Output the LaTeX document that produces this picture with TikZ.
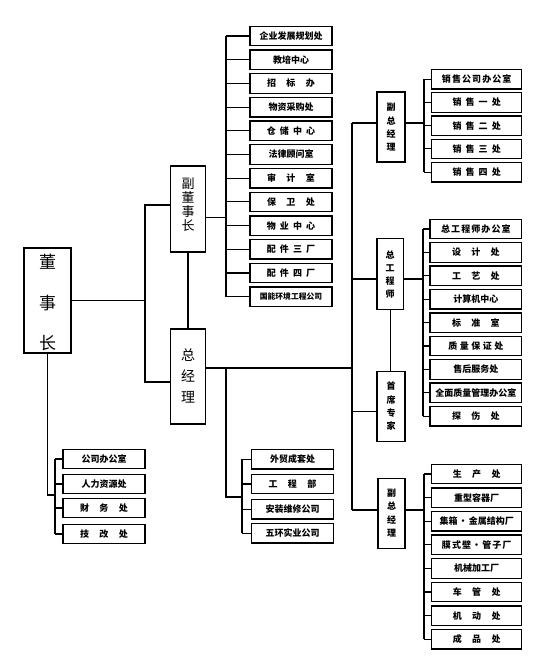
\documentclass[tikz,border=0pt]{standalone}
\usepackage{fontspec}
\newfontfamily\cjk{Noto Sans CJK SC}
\newcommand\wsA{\hspace{1.15em}}
\newcommand\wsB{\hspace{0.45em}}
\newcommand\wsC{\hspace{0.28em}}
\newcommand\wsD{\hspace{0.12em}}
\begin{document}
\begin{tikzpicture}[x=1pt,y=-1pt,
  ln/.style={line width=1.1pt},
  frame/.style={draw, line width=1.3pt, inner sep=0pt},
  bx/.style={frame, minimum height=19.5pt, font=\cjk\bfseries\fontsize{9}{11}\selectfont},
  midbox/.style={bx, minimum width=82pt},
  rgtbox/.style={bx, minimum width=90pt},
  vt/.style={inner sep=0pt, align=center},
  smallv/.style={vt, font=\cjk\bfseries\fontsize{9}{13.3}\selectfont},
]
\useasboundingbox (0,0) rectangle (536,662);

% ---- main vertical boxes
\node[frame, minimum width=47pt, minimum height=105pt] (dsz) at (47.5,300.5) {};
\node[vt, font=\cjk\fontsize{17}{40.5}\selectfont] (dszt) at (47.5,302.5) {董\\事\\长};

\node[frame, minimum width=35.5pt, minimum height=86pt] (fdsz) at (188,209) {};
\node[vt, font=\cjk\fontsize{13}{14}\selectfont] (fdszt) at (188,204.5) {副\\董\\事\\长};

\node[frame, minimum width=35.5pt, minimum height=95pt] (zjl) at (188,376.5) {};
\node[vt, font=\cjk\fontsize{14}{21}\selectfont] (zjlt) at (188,376) {总\\经\\理};

\node[frame, minimum width=28pt, minimum height=70pt] (fz1) at (391,127) {};
\node[smallv] (fz1t) at (391,127.4) {副\\总\\经\\理};

\node[frame, minimum width=26.5pt, minimum height=71pt] (zgcs) at (390.2,273.8) {};
\node[smallv, font=\cjk\bfseries\fontsize{9}{13}\selectfont] (zgcst) at (390.2,274.5) {总\\工\\程\\师};

\node[frame, minimum width=28pt, minimum height=70pt] (sxzj) at (391,406.7) {};
\node[smallv] (sxzjt) at (391,406.3) {首\\席\\专\\家};

\node[frame, minimum width=27pt, minimum height=70pt] (fz2) at (391.5,513.3) {};
\node[smallv] (fz2t) at (391.5,513) {副\\总\\经\\理};

% ---- middle top list
\node[midbox] (m1) at (291,36.0) {企业发展规划处};
\node[midbox] (m2) at (291,59.7) {教培中心};
\node[midbox] (m3) at (291,83.4) {招\wsA 标\wsA 办};
\node[midbox] (m4) at (291,107.1) {物资采购处};
\node[midbox] (m5) at (291,130.8) {仓\wsB 储\wsB 中\wsB 心};
\node[midbox] (m6) at (291,154.5) {法律顾问室};
\node[midbox] (m7) at (291,178.2) {审\wsA 计\wsA 室};
\node[midbox] (m8) at (291,201.9) {保\wsA 卫\wsA 处};
\node[midbox] (m9) at (291,225.6) {物\wsB 业\wsB 中\wsB 心};
\node[midbox] (m10) at (291,249.3) {配\wsB 件\wsB 三\wsB 厂};
\node[midbox] (m11) at (291,273.0) {配\wsB 件\wsB 四\wsB 厂};
\node[midbox, font=\cjk\bfseries\fontsize{7.8}{10}\selectfont] (m12) at (291,296.7) {国能环境工程公司};

% ---- right list 1
\node[rgtbox] (a1) at (476.7,79.3) {销\wsD 售\wsD 公\wsD 司\wsD 办\wsD 公\wsD 室};
\node[rgtbox] (a2) at (476.7,102.5) {销\wsB 售\wsB 一\wsB 处};
\node[rgtbox] (a3) at (476.7,125.7) {销\wsB 售\wsB 二\wsB 处};
\node[rgtbox] (a4) at (476.7,148.9) {销\wsB 售\wsB 三\wsB 处};
\node[rgtbox] (a5) at (476.7,172.1) {销\wsB 售\wsB 四\wsB 处};

% ---- right list 2
\node[rgtbox, minimum width=91.7pt] (b1) at (475.85,229.0) {总\wsD 工\wsD 程\wsD 师\wsD 办\wsD 公\wsD 室};
\node[rgtbox, minimum width=91.7pt] (b2) at (475.85,252.4) {设\wsA 计\wsA 处};
\node[rgtbox, minimum width=91.7pt] (b3) at (475.85,275.8) {工\wsA 艺\wsA 处};
\node[rgtbox, minimum width=91.7pt] (b4) at (475.85,299.2) {计算机中心};
\node[rgtbox, minimum width=91.7pt] (b5) at (475.85,322.6) {标\wsA 准\wsA 室};
\node[rgtbox, minimum width=91.7pt] (b6) at (475.85,346.0) {质\wsC 量\wsC 保\wsC 证\wsC 处};
\node[rgtbox, minimum width=91.7pt] (b7) at (475.85,369.4) {售后服务处};
\node[rgtbox, minimum width=91.7pt] (b8) at (475.85,392.8) {全面质量管理办公室};
\node[rgtbox, minimum width=91.7pt] (b9) at (475.85,416.2) {探\wsA 伤\wsA 处};

% ---- right list 3
\node[rgtbox] (c1) at (476.7,474.0) {生\wsA 产\wsA 处};
\node[rgtbox] (c2) at (476.7,497.6) {重型容器厂};
\node[rgtbox] (c3) at (476.7,521.2) {集箱\wsD ·\wsD 金属结构厂};
\node[rgtbox] (c4) at (476.7,544.8) {膜\wsD 式\wsD 壁\wsD ·\wsD 管\wsD 子\wsD 厂};
\node[rgtbox] (c5) at (476.7,568.4) {机械加工厂};
\node[rgtbox] (c6) at (476.7,592.0) {车\wsA 管\wsA 处};
\node[rgtbox] (c7) at (476.7,615.6) {机\wsA 动\wsA 处};
\node[rgtbox] (c8) at (476.7,639.2) {成\wsA 品\wsA 处};

% ---- bottom middle list
\node[midbox, minimum width=81.6pt] (d1) at (292.5,459.3) {外贸成套处};
\node[midbox, minimum width=81.6pt] (d2) at (292.5,484.0) {工\wsA 程\wsA 部};
\node[midbox, minimum width=81.6pt] (d3) at (292.5,509.3) {安装维修公司};
\node[midbox, minimum width=81.6pt] (d4) at (292.5,533.3) {五环实业公司};

% ---- bottom left list
\node[midbox] (e1) at (104,459) {公司办公室};
\node[midbox] (e2) at (104,484) {人力资源处};
\node[midbox] (e3) at (104,508) {财\wsA 务\wsA 处};
\node[midbox] (e4) at (104,534) {技\wsA 改\wsA 处};

% ---- junction coordinates
\coordinate (jA) at (145,300.5);
\coordinate (tF) at (145,205);
\coordinate (tZ) at (145,382);
\coordinate (tM) at (226,217.5);
\coordinate (tS) at (352,368);
\coordinate (s1) at (352,123);
\coordinate (s2) at (352,279);
\coordinate (s3) at (352,411.5);
\coordinate (s4) at (352,510);
\coordinate (r1) at (424,123);
\coordinate (r2) at (423,279);
\coordinate (r3) at (424,510);
\coordinate (tG) at (226,368);
\coordinate (tG2) at (226,497);
\coordinate (bG) at (242,497);
\coordinate (tD) at (47.5,495);
\coordinate (bD) at (55,495);

% ---- connectors
\draw[ln] (dsz.east) -- (jA);
\draw[ln] (tF -| fdsz.west) -- (tF) -- (tZ) -- (tZ -| zjl.west);
\draw[ln] (fdsz.south) -- (zjl.north);
\draw[ln] (tM -| fdsz.east) -- (tM);
\draw[ln] (m1.west -| tM) -- (m12.west -| tM);
\foreach \i in {1,...,12} \draw[ln] (m\i.west -| tM) -- (m\i.west);

\draw[ln] (tS -| zjl.east) -- (tS);
\draw[ln] (s1) -- (s4);
\draw[ln] (s1) -- (s1 -| fz1.west);
\draw[ln] (s2) -- (s2 -| zgcs.west);
\draw[ln] (s3) -- (s3 -| sxzj.west);
\draw[ln] (s4) -- (s4 -| fz2.west);
\draw[ln] (zgcs.south) -- (zgcs.south |- sxzj.north);

\draw[ln] (r1 -| fz1.east) -- (r1);
\draw[ln] (a1.west -| r1) -- (a5.west -| r1);
\foreach \i in {1,...,5} \draw[ln] (a\i.west -| r1) -- (a\i.west);

\draw[ln] (r2 -| zgcs.east) -- (r2);
\draw[ln] (b1.west -| r2) -- (b9.west -| r2);
\foreach \i in {1,...,9} \draw[ln] (b\i.west -| r2) -- (b\i.west);

\draw[ln] (r3 -| fz2.east) -- (r3);
\draw[ln] (c1.west -| r3) -- (c8.west -| r3);
\foreach \i in {1,...,8} \draw[ln] (c\i.west -| r3) -- (c\i.west);

\draw[ln] (tG) -- (tG2) -- (bG);
\draw[ln] (d1.west -| bG) -- (d4.west -| bG);
\foreach \i in {1,...,4} \draw[ln] (d\i.west -| bG) -- (d\i.west);

\draw[ln] (dsz.south) -- (tD) -- (bD);
\draw[ln] (e1.west -| bD) -- (e4.west -| bD);
\foreach \i in {1,...,4} \draw[ln] (e\i.west -| bD) -- (e\i.west);
\end{tikzpicture}
\end{document}
